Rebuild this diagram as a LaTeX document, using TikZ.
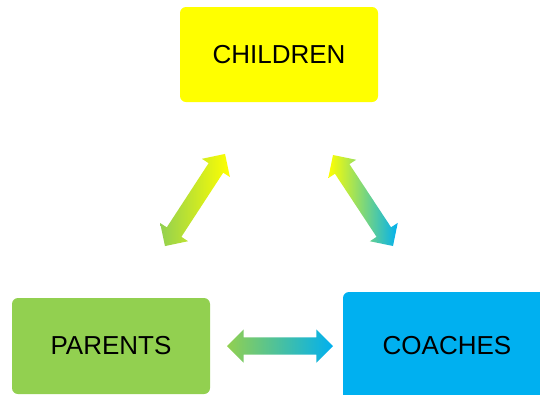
\documentclass[tikz,border=0pt]{standalone}
\usepackage{fontspec}
\setmainfont{Liberation Sans}
\usetikzlibrary{shapes.arrows}
\definecolor{cyel}{HTML}{FFFF00}
\definecolor{cgrn}{HTML}{92D050}
\definecolor{cblu}{HTML}{00B0F0}
\begin{document}
\begin{tikzpicture}[x=1pt,y=-1pt,
  box/.style={rectangle,rounded corners=6pt,draw=none,inner sep=0pt,
    font=\fontsize{26}{30}\selectfont,text=black},
  dbl/.style={shape=double arrow,draw=none,inner xsep=0pt,inner ysep=8.5pt,
    double arrow head extend=8pt,
    double arrow tip angle=90}]
\useasboundingbox (0,0) rectangle (540,394);
\clip (0,0) rectangle (540,394);
\node[box,fill=cyel,minimum width=198pt,minimum height=95pt] (children) at (279,54.5) {CHILDREN};
\node[box,fill=cgrn,minimum width=198pt,minimum height=96pt] (parents) at (111,346) {PARENTS};
\node[box,fill=cblu,minimum width=208pt,minimum height=108pt] (coaches) at (447,346) {COACHES};
\node[dbl,minimum height=110pt,rotate=56.9,left color=cgrn,right color=cyel] (pc) at (195,200) {};
\node[dbl,minimum height=109pt,rotate=-56.6,left color=cyel,right color=cblu] (cc) at (363,200.5) {};
\node[dbl,minimum height=106pt,left color=cgrn,right color=cblu] (pco) at (280,346) {};
\end{tikzpicture}
\end{document}
